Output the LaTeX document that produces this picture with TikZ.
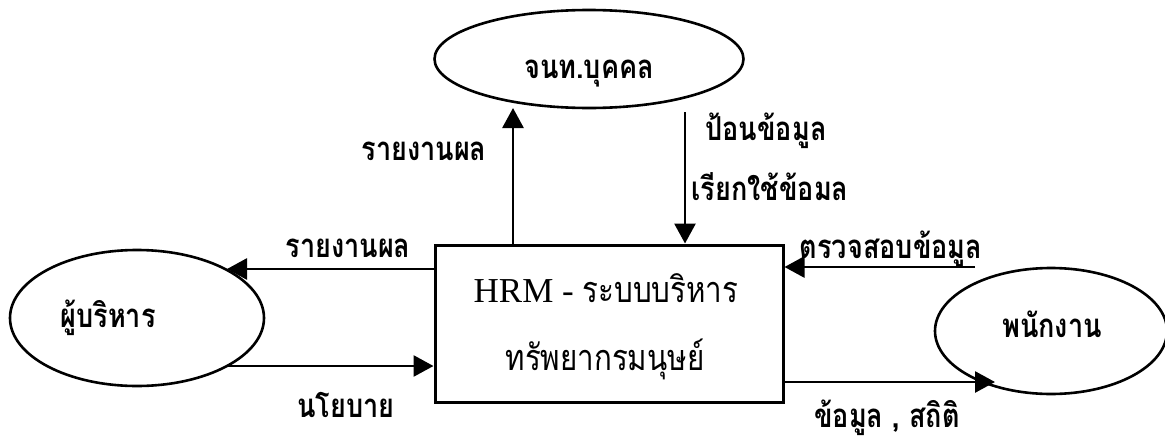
\documentclass[tikz,border=0pt]{standalone}
\usepackage{fontspec}
\setmainfont{Liberation Serif}
\newfontfamily\thai[Script=Thai,FakeStretch=0.82]{Loma}
\usetikzlibrary{arrows.meta,shapes.geometric}
\begin{document}
\begin{tikzpicture}[x=1pt,y=-1pt,
  ent/.style={ellipse,draw,line width=2.6pt,inner sep=0pt},
  proc/.style={rectangle,draw,line width=3pt,inner sep=0pt},
  lbl/.style={anchor=base,inner sep=0pt,font=\thai\bfseries\fontsize{33}{38}\selectfont},
  flow/.style={line width=2.8pt,-{Triangle[width=21pt,length=20pt]}}]
\useasboundingbox (0,0) rectangle (1165,442);
% entities
\node[ent,minimum width=309pt,minimum height=98pt] (staff) at (589,59) {};
\node[ent,minimum width=254pt,minimum height=136pt] (mgr) at (137,318) {};
\node[ent,minimum width=232pt,minimum height=126pt] (emp) at (1051,331) {};
\node[proc,minimum width=348pt,minimum height=157pt] (hrm) at (609,323.5) {};
% entity texts
\node[lbl] (tstaff) at (589,78) {จนท.บุคคล};
\node[lbl] (tmgr) at (108,327) {ผู้บริหาร};
\node[lbl] (temp) at (1052,337) {พนักงาน};
\node[anchor=base,inner sep=0pt,font=\fontsize{35}{40}\selectfont] (thrm1) at (606,302) {HRM - {\thai\fontsize{36}{40}\selectfont ระบบบริหาร}};
\node[lbl,font=\thai\fontsize{36}{40}\selectfont] (thrm2) at (605,370) {ทรัพยากรมนุษย์};
% connector end points
\coordinate (upx) at (513,108);
\coordinate (dnx) at (685,112);
\coordinate (lrep) at (227,269);
\coordinate (lpol) at (227,366);
\coordinate (rchk) at (975,267);
\coordinate (rdat) at (995,382);
% connectors
\draw[flow] (hrm.north -| upx) -- (upx);
\draw[flow] (dnx) -- (hrm.north -| dnx);
\draw[flow] (hrm.west |- lrep) -- (lrep);
\draw[flow] (lpol) -- (hrm.west |- lpol);
\draw[flow] (rchk) -- (hrm.east |- rchk);
\draw[flow] (hrm.east |- rdat) -- (rdat);
% connector labels
\node[lbl] (l1) at (424,160) {รายงานผล};
\node[lbl] (l2) at (766,140) {ป้อนข้อมูล};
\node[lbl] (l3) at (770,200) {เรียกใช้ข้อมล};
\node[lbl] (l4) at (348,257) {รายงานผล};
\node[lbl] (l5) at (891,258) {ตรวจสอบข้อมูล};
\node[lbl] (l6) at (346,417) {นโยบาย};
\node[lbl] (l7) at (887,427) {ข้อมูล , สถิติ};
\end{tikzpicture}
\end{document}
